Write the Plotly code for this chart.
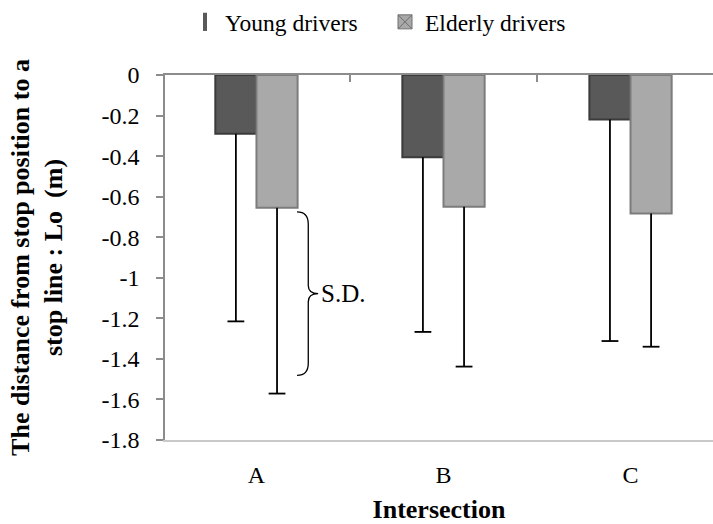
import plotly.graph_objects as go

# Stop position relative to the stop line, by intersection and driver group
intersections = ["A", "B", "C"]
young_mean = [-0.29, -0.405, -0.22]
elderly_mean = [-0.655, -0.65, -0.683]
young_sd = [0.925, 0.862, 1.092]
elderly_sd = [0.916, 0.788, 0.657]

y_tick_vals = [0, -0.2, -0.4, -0.6, -0.8, -1.0, -1.2, -1.4, -1.6, -1.8]
y_tick_text = ["0", "-0.2", "-0.4", "-0.6", "-0.8", "-1", "-1.2", "-1.4", "-1.6", "-1.8"]

SERIF = "Liberation Serif, Times New Roman, serif"
YOUNG_FILL, YOUNG_EDGE = "#595959", "#3b3b3b"
ELDER_FILL, ELDER_EDGE = "#a9a9a9", "#7c7c7c"


def sd_stem(sd):
    # downward whisker only; the end cap is drawn as a separate marker
    return dict(type="data", symmetric=False, array=[0] * len(sd), arrayminus=sd,
                color="black", thickness=1.8, width=0)


fig = go.Figure()
fig.add_trace(go.Bar(
    x=intersections, y=young_mean, name="Young drivers", showlegend=False,
    offsetgroup="young",
    marker=dict(color=YOUNG_FILL, line=dict(color=YOUNG_EDGE, width=2)),
    error_y=sd_stem(young_sd),
))
fig.add_trace(go.Bar(
    x=intersections, y=elderly_mean, name="Elderly drivers", showlegend=False,
    offsetgroup="elderly",
    marker=dict(color=ELDER_FILL, line=dict(color=ELDER_EDGE, width=2)),
    error_y=sd_stem(elderly_sd),
))

# End caps at mean - SD
for means, sds, grp in [(young_mean, young_sd, "young"), (elderly_mean, elderly_sd, "elderly")]:
    fig.add_trace(go.Scatter(
        x=intersections, y=[m - s for m, s in zip(means, sds)], mode="markers",
        offsetgroup=grp, showlegend=False, hoverinfo="skip",
        marker=dict(symbol="line-ew", size=12, line=dict(color="black", width=1.8)),
    ))

# Legend entries with custom symbols; they also carry the top axis
fig.add_trace(go.Scatter(
    x=intersections, y=[None] * 3, xaxis="x2", mode="markers", name="Young drivers",
    marker=dict(symbol="line-ns", size=13, color=YOUNG_FILL,
                line=dict(color=YOUNG_FILL, width=4)),
))
fig.add_trace(go.Scatter(
    x=intersections, y=[None] * 3, xaxis="x2", mode="markers", name="Elderly drivers",
    marker=dict(symbol="square-x", size=14, color=ELDER_FILL,
                line=dict(color="#6e6e6e", width=1)),
))

# Curly brace marking the S.D. of the elderly group at intersection A
top = elderly_mean[0] - 0.02
bot = elderly_mean[0] - elderly_sd[0] + 0.09
mid = (top + bot) / 2
xe, xv, xt = 0.217, 0.277, 0.33
brace = (
    f"M {xe},{top} Q {xv},{top} {xv},{top - 0.06} "
    f"L {xv},{mid + 0.04} Q {xv},{mid} {xt},{mid} "
    f"Q {xv},{mid} {xv},{mid - 0.04} "
    f"L {xv},{bot + 0.06} Q {xv},{bot} {xe},{bot}"
)
fig.add_shape(type="path", path=brace, xref="x", yref="y",
              line=dict(color="black", width=1.3))
fig.add_annotation(x=xt + 0.005, y=mid, xref="x", yref="y", text="S.D.",
                   showarrow=False, xanchor="left", yanchor="middle",
                   font=dict(family=SERIF, size=25, color="black"))

fig.update_layout(
    width=713, height=524,
    margin=dict(l=165, r=0, t=75, b=84, autoexpand=False),
    paper_bgcolor="white", plot_bgcolor="white",
    barmode="group", bargap=0.56, bargroupgap=0,
    scattermode="group", scattergap=0.56,
    font=dict(family=SERIF, size=24, color="black"),
    legend=dict(orientation="h", x=0.0365, xanchor="left", y=1.145, yanchor="middle",
                font=dict(family=SERIF, size=23.5), itemwidth=30, entrywidth=155,
                bgcolor="rgba(0,0,0,0)"),
    xaxis=dict(
        type="category", range=[-0.489, 2.441],
        showline=True, linecolor="#c8c8c8", linewidth=1.5,
        ticks="", showgrid=False, zeroline=False,
        ticklabelstandoff=12,
        title=dict(text="<b>Intersection</b>", standoff=18,
                   font=dict(family=SERIF, size=26)),
    ),
    xaxis2=dict(
        type="category", overlaying="x", matches="x", side="top", anchor="y",
        showline=True, linecolor="#8c8c8c", linewidth=1.5,
        ticks="inside", tickson="boundaries", ticklen=7, tickcolor="#8c8c8c",
        tickwidth=1.5, showticklabels=False, showgrid=False, zeroline=False,
    ),
    yaxis=dict(
        range=[-1.8, 0], tickvals=y_tick_vals, ticktext=y_tick_text,
        showline=True, linecolor="#8c8c8c", linewidth=1.5,
        ticks="outside", ticklen=7, tickcolor="#8c8c8c", tickwidth=1.5,
        showgrid=False, zeroline=False, ticklabelstandoff=12,
        title=dict(text="<b>The distance from stop position to a<br>stop line : Lo&nbsp; (m)</b>",
                   standoff=31, font=dict(family=SERIF, size=26)),
    ),
)

fig.write_html("out.html")
